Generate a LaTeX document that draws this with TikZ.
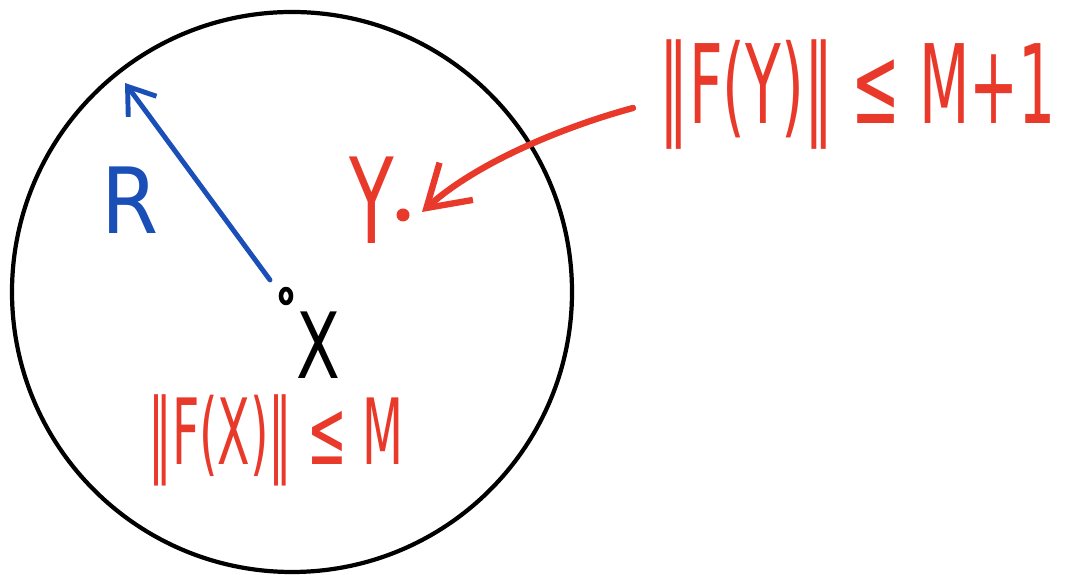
\documentclass[tikz,border=0pt]{standalone}
\usepackage{fontspec}
\setsansfont{DejaVu Sans}
\usepackage{xcolor}
\definecolor{cb}{HTML}{1a4fb8}
\definecolor{cr}{HTML}{e8392a}
\usepackage{tikz}
\usetikzlibrary{arrows.meta,positioning,calc,shapes.geometric}

\begin{document}
\begin{tikzpicture}[
  >={Straight Barb[length=4mm,width=5mm]}, line cap=round, line join=round,
  ink/.style={font=\sffamily\fontsize{26}{26}\selectfont, inner sep=0pt},
  redtxt/.style={ink, text=cr},
  bluetxt/.style={ink, text=cb},
]
  \useasboundingbox (0,0) rectangle (10.71,5.75);
  % ball around x
  \node[circle, draw, line width=1.2pt, minimum size=5.6cm, inner sep=0pt] (ball) at (2.92,2.83) {};
  \node[ellipse, draw, line width=1.3pt, minimum width=1mm, minimum height=1.4mm, inner sep=0pt] (x0) at (2.86,2.79) {};
  \coordinate (rstart) at (2.70,2.95);
  \coordinate (rim) at (1.25,4.92);
  \coordinate (ystart) at (6.33,4.67);
  \coordinate (ytip) at (4.22,3.63);

  \node[ink, xscale=0.7] (xlab) at (3.18,2.30) {X};
  \node[bluetxt, xscale=0.9] (rlab) at (1.30,3.75) {R};
  \node[redtxt, xscale=0.8, yscale=1.3] (ylab) at (3.72,3.75) {Y};
  \node[circle, fill=cr, inner sep=0pt, minimum size=1.3mm] (ydot) at (4.03,3.60) {};
  \node[redtxt, xscale=0.52] (fx) at (2.76,1.35) {‖F(X)‖ ≤ M};
  \node[redtxt, xscale=0.64, yscale=1.2] (fy) at (8.58,4.80) {‖F(Y)‖ ≤ M+1};

  \draw[->, cb, line width=1.4pt, >={Straight Barb[length=2.5mm,width=3.5mm]}] (rstart) -- (rim);
  \draw[->, cr, line width=1.8pt] (ystart) .. controls (5.7,4.50) and (4.8,4.15) .. (ytip);
\end{tikzpicture}
\end{document}
